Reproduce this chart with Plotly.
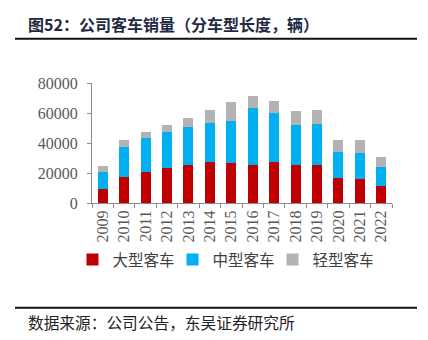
import plotly.graph_objects as go

# Annual bus sales by vehicle length (units)
years = ["2009", "2010", "2011", "2012", "2013", "2014", "2015",
         "2016", "2017", "2018", "2019", "2020", "2021", "2022"]
large = [9300, 17300, 20700, 23100, 25300, 27100, 26700,
         25100, 27300, 25500, 25500, 16400, 16200, 11500]
medium = [11700, 19800, 22600, 24200, 25100, 26000, 28000,
          38000, 32400, 26500, 27100, 17300, 17100, 12200]
light = [3900, 4600, 4000, 4900, 6300, 8900, 12900,
         8500, 8500, 9300, 9300, 8500, 8900, 6900]

series_names = ["大型客车", "中型客车", "轻型客车"]
series_colors = ["#C00000", "#00B0F0", "#B3B3B3"]

num_font = "Liberation Serif"
cjk_font = "Noto Sans CJK SC"

fig = go.Figure()
for name, vals, color in zip(series_names, [large, medium, light], series_colors):
    fig.add_trace(go.Bar(x=years, y=vals, name=name, marker_color=color,
                         marker_line_width=0))

axis_color = "#8C8C8C"
fig.update_layout(
    width=428, height=340,
    margin=dict(l=92, r=36, t=83, b=137, autoexpand=False),
    barmode="stack", bargap=0.53,
    plot_bgcolor="white", paper_bgcolor="white",
    showlegend=True,
    legend=dict(orientation="h", x=-0.065, y=-0.475, yanchor="middle",
                xanchor="left", traceorder="normal",
                entrywidth=55, entrywidthmode="pixels",
                itemwidth=30,
                font=dict(family=cjk_font, size=15.5, color="#404040"),
                bgcolor="rgba(0,0,0,0)"),
    xaxis=dict(type="category", showline=True, linecolor=axis_color,
               linewidth=1, ticks="outside", tickson="boundaries",
               ticklen=4, tickcolor=axis_color, tickangle=-90,
               tickfont=dict(family=num_font, size=16, color="#595959"),
               showgrid=False),
    yaxis=dict(range=[0, 80000], tickvals=[0, 20000, 40000, 60000, 80000],
               ticktext=["0", "20000", "40000", "60000", "80000"],
               showline=True, linecolor=axis_color, linewidth=1,
               ticks="outside", ticklen=4, tickcolor=axis_color,
               ticklabelstandoff=6,
               tickfont=dict(family=num_font, size=16, color="#595959"),
               showgrid=False, zeroline=False),
)

# Title, rules and source note
fig.add_annotation(text="<b>图52：公司客车销量（分车型长度，辆）</b>",
                   xref="paper", yref="paper", x=(26 - 92) / 300,
                   y=(203.3 - 24) / 120, xanchor="left", yanchor="middle",
                   showarrow=False,
                   font=dict(family=cjk_font, size=16, color="#1F2A44"))
fig.add_annotation(text="数据来源：公司公告，东吴证券研究所",
                   xref="paper", yref="paper", x=(26 - 92) / 300,
                   y=(203.3 - 323) / 120, xanchor="left", yanchor="middle",
                   showarrow=False,
                   font=dict(family=cjk_font, size=15.7, color="#222222"))
for ypix in (39, 308):
    fig.add_shape(type="line", xref="paper", yref="paper",
                  x0=(15 - 92) / 300, x1=(417 - 92) / 300,
                  y0=(203.3 - ypix) / 120, y1=(203.3 - ypix) / 120,
                  line=dict(color="#111111", width=2))

fig.write_html("out.html")
